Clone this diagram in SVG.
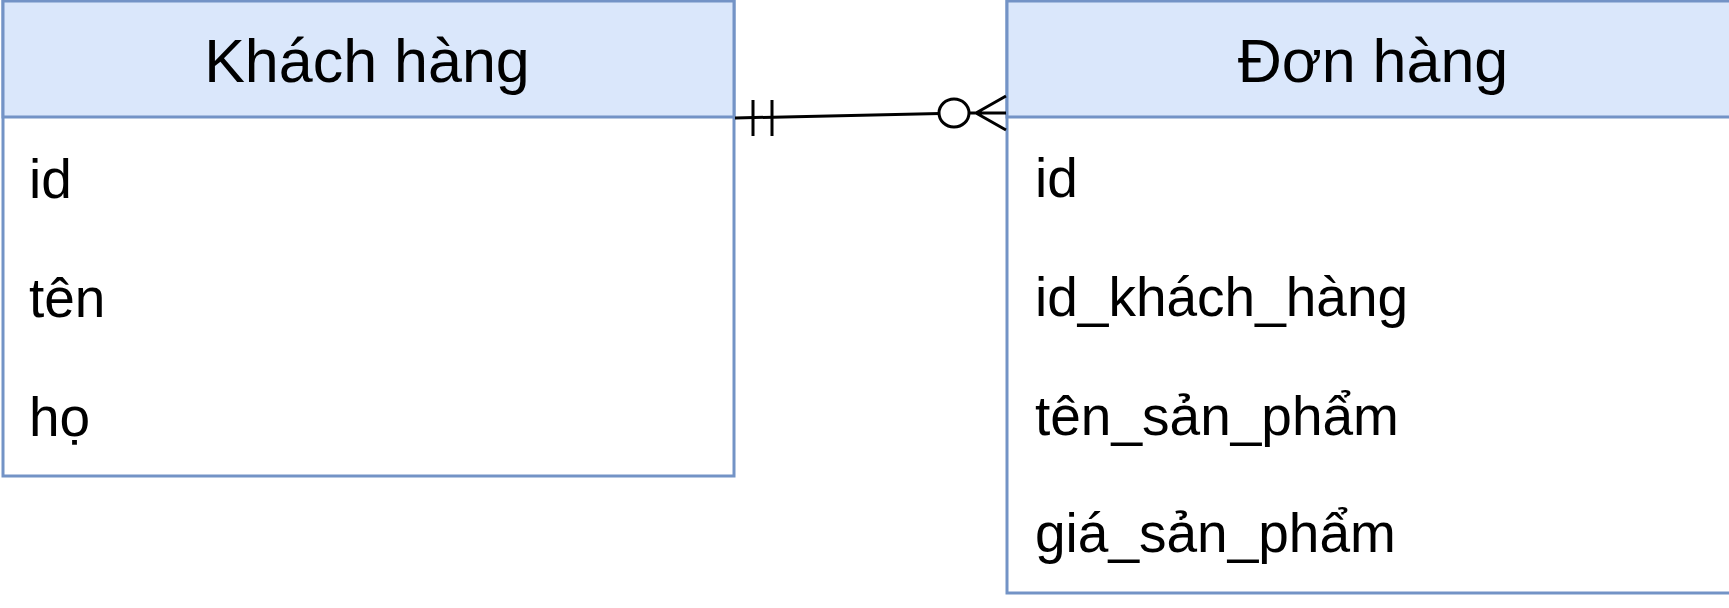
<svg xmlns="http://www.w3.org/2000/svg" width="1729" height="608" viewBox="0 0 1729 608">
<style>
.box{fill:#ffffff;stroke:#7393c6;stroke-width:3}
.hdr{fill:#dae7fb;stroke:#7393c6;stroke-width:3}
.title{font-family:"Liberation Sans",Arial,sans-serif;font-size:61px;fill:#000;text-anchor:middle}
.field{font-family:"Liberation Sans",Arial,sans-serif;font-size:55px;fill:#000}
.conn{stroke:#000;stroke-width:3;fill:none}
</style>
<rect width="1729" height="608" fill="#ffffff"/>
<g id="khach-hang">
<rect class="box" x="3" y="1" width="731" height="475"/>
<rect class="hdr" x="3" y="1" width="731" height="116"/>
<text class="title" x="367" y="82">Khách hàng</text>
<text class="field" x="29" y="198">id</text>
<text class="field" x="29" y="317">tên</text>
<text class="field" x="29" y="436">họ</text>
</g>
<g id="don-hang">
<rect class="box" x="1007" y="1" width="740" height="592"/>
<rect class="hdr" x="1007" y="1" width="740" height="116"/>
<text class="title" x="1373" y="82">Đơn hàng</text>
<text class="field" x="1035" y="197">id</text>
<text class="field" x="1035" y="316">id_khách_hàng</text>
<text class="field" x="1035" y="435">tên_sản_phẩm</text>
<text class="field" x="1035" y="552">giá_sản_phẩm</text>
</g>
<g id="connectors">
<path class="conn" d="M735 118 L940 113.5"/>
<path class="conn" d="M753 100 V136 M772 100 V136"/>
<ellipse class="conn" cx="954" cy="113" rx="15" ry="14" style="fill:#fff"/>
<path class="conn" d="M969 113 H1006 M976 113 L1006 96 M976 113 L1006 130"/>
</g>
</svg>
